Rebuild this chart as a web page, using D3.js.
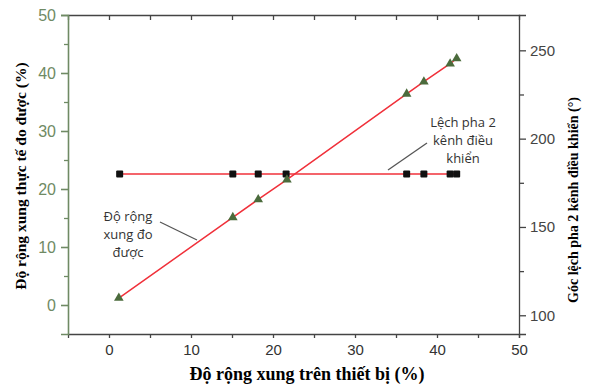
<!DOCTYPE html>
<html>
<head>
<meta charset="utf-8">
<script src="https://cdn.jsdelivr.net/npm/d3@7"></script>
<style>
  body { margin: 0; background: #fff; }
  svg { display: block; }
</style>
</head>
<body>
<svg id="chart" width="590" height="385"></svg>
<script>
// Data
var setWidth = [1.2, 15.1, 18.2, 21.7, 36.3, 38.4, 41.6, 42.4];      // x, %
var measured = [1.2, 15.1, 18.2, 21.6, 36.4, 38.5, 41.6, 42.5];      // left axis, %
var phaseX   = [1.3, 15.1, 18.2, 21.6, 36.3, 38.4, 41.6, 42.4];      // x, %
var phase    = [180, 180, 180, 180, 180, 180, 180, 180];             // right axis, degrees

var xTicks = [0, 10, 20, 30, 40, 50];
var xMinor = [5, 15, 25, 35, 45];
var yTicks = [0, 10, 20, 30, 40, 50];
var yMinor = [5, 15, 25, 35, 45];
var y2Ticks = [100, 150, 200, 250];
var y2Minor = [125, 175, 225];

var margin = { top: 15, right: 71, bottom: 51, left: 68 };
var width = 590 - margin.left - margin.right;
var height = 385 - margin.top - margin.bottom;

var axisGreen = '#6f8a64';
var red = '#f0303a';

var x = d3.scaleLinear().domain([-5, 50]).range([0, width]);
var y = d3.scaleLinear().domain([-5, 50]).range([height, 0]);
var y2 = d3.scaleLinear().domain([89.4, 270]).range([height, 0]);

var svg = d3.select('#chart')
  .append('g')
  .attr('transform', 'translate(' + margin.left + ',' + margin.top + ')');

// top frame with inward ticks
var topAxis = svg.append('g')
  .call(d3.axisTop(x).tickValues(xTicks.concat(xMinor).filter(function (d) { return d < 50; }))
    .tickSize(-5).tickFormat(''));
topAxis.selectAll('path, line').attr('stroke', '#444').attr('stroke-width', 1.3);

// bottom axis
var bx = svg.append('g')
  .attr('transform', 'translate(0,' + height + ')')
  .call(d3.axisBottom(x).tickValues(xTicks).tickSize(4).tickPadding(6));
bx.selectAll('path, line').attr('stroke', '#444').attr('stroke-width', 1.3);
bx.selectAll('text').style('font-family', 'Liberation Sans, Arial').style('font-size', '15px').attr('fill', '#333');
svg.append('g')
  .attr('transform', 'translate(0,' + height + ')')
  .call(d3.axisBottom(x).tickValues(xMinor).tickSize(4).tickFormat(''))
  .call(function (g) { g.select('.domain').remove(); g.selectAll('line').attr('stroke', '#444').attr('stroke-width', 1.3); });

// left axis
var ly = svg.append('g')
  .call(d3.axisLeft(y).tickValues(yTicks).tickSize(7).tickPadding(5));
ly.selectAll('path, line').attr('stroke', axisGreen).attr('stroke-width', 1.6);
ly.selectAll('text').style('font-family', 'Liberation Sans, Arial').style('font-size', '16px').attr('fill', axisGreen);
svg.append('g')
  .call(d3.axisLeft(y).tickValues(yMinor).tickSize(4).tickFormat(''))
  .call(function (g) { g.select('.domain').remove(); g.selectAll('line').attr('stroke', axisGreen).attr('stroke-width', 1.3); });

// right axis
var ry = svg.append('g')
  .attr('transform', 'translate(' + width + ',0)')
  .call(d3.axisRight(y2).tickValues(y2Ticks).tickSize(7).tickPadding(4));
ry.selectAll('path, line').attr('stroke', '#444').attr('stroke-width', 1.3);
ry.selectAll('text').style('font-family', 'Liberation Sans, Arial').style('font-size', '15px').attr('fill', '#444');
svg.append('g')
  .attr('transform', 'translate(' + width + ',0)')
  .call(d3.axisRight(y2).tickValues(y2Minor).tickSize(5).tickFormat(''))
  .call(function (g) { g.select('.domain').remove(); g.selectAll('line').attr('stroke', '#444').attr('stroke-width', 1.3); });

// lines
var measuredPts = setWidth.map(function (v, i) { return { x: v, y: measured[i] }; });
var phasePts = phaseX.map(function (v, i) { return { x: v, y: phase[i] }; });

svg.append('path')
  .datum(phasePts)
  .attr('fill', 'none')
  .attr('stroke', red)
  .attr('stroke-width', 1.5)
  .attr('d', d3.line().x(function (d) { return x(d.x); }).y(function (d) { return y2(d.y); }));

svg.append('path')
  .datum(measuredPts)
  .attr('fill', 'none')
  .attr('stroke', red)
  .attr('stroke-width', 1.5)
  .attr('d', d3.line().x(function (d) { return x(d.x); }).y(function (d) { return y(d.y); }));

// markers
svg.selectAll('rect.sq')
  .data(phasePts)
  .enter().append('rect')
  .attr('class', 'sq')
  .attr('x', function (d) { return x(d.x) - 3.5; })
  .attr('y', function (d) { return y2(d.y) - 3.5; })
  .attr('width', 7)
  .attr('height', 7)
  .attr('rx', 1)
  .attr('fill', '#111');

svg.selectAll('path.tri')
  .data(measuredPts)
  .enter().append('path')
  .attr('class', 'tri')
  .attr('transform', function (d) { return 'translate(' + x(d.x) + ',' + y(d.y) + ')'; })
  .attr('d', d3.symbol().type(d3.symbolTriangle).size(40))
  .attr('fill', '#4b6b3c');

// annotations
var ann = svg.append('g')
  .style('font-family', 'Open Sans, sans-serif')
  .style('font-size', '13px')
  .attr('fill', '#333')
  .attr('text-anchor', 'middle');

[['Lệch pha 2', 0], ['kênh điều', 18], ['khiển', 36]].forEach(function (t) {
  ann.append('text').attr('x', 463 - margin.left).attr('y', 127 - margin.top + t[1]).text(t[0]);
});
[['Độ rộng', 0], ['xung đo', 18], ['được', 36]].forEach(function (t) {
  ann.append('text').attr('x', 128 - margin.left).attr('y', 221 - margin.top + t[1]).text(t[0]);
});

svg.append('line')
  .attr('x1', 388 - margin.left).attr('y1', 170 - margin.top)
  .attr('x2', 427 - margin.left).attr('y2', 143 - margin.top)
  .attr('stroke', '#555').attr('stroke-width', 1.3);
svg.append('line')
  .attr('x1', 160 - margin.left).attr('y1', 222 - margin.top)
  .attr('x2', 197 - margin.left).attr('y2', 240 - margin.top)
  .attr('stroke', '#555').attr('stroke-width', 1.3);

// axis titles
svg.append('text')
  .attr('x', 307 - margin.left)
  .attr('y', 380 - margin.top)
  .attr('text-anchor', 'middle')
  .style('font-family', 'Liberation Serif, Times New Roman, serif')
  .style('font-weight', 'bold')
  .style('font-size', '18px')
  .text('Độ rộng xung trên thiết bị (%)');

svg.append('text')
  .attr('transform', 'translate(' + (26 - margin.left) + ',' + (176 - margin.top) + ') rotate(-90)')
  .attr('text-anchor', 'middle')
  .style('font-family', 'Liberation Serif, Times New Roman, serif')
  .style('font-weight', 'bold')
  .style('font-size', '15.5px')
  .text('Độ rộng xung thực tế đo được (%)');

svg.append('text')
  .attr('transform', 'translate(' + (578 - margin.left) + ',' + (200 - margin.top) + ') rotate(-90)')
  .attr('text-anchor', 'middle')
  .style('font-family', 'Liberation Serif, Times New Roman, serif')
  .style('font-weight', 'bold')
  .style('font-size', '14px')
  .text('Góc lệch pha 2 kênh điều khiển (°)');
</script>
</body>
</html>
